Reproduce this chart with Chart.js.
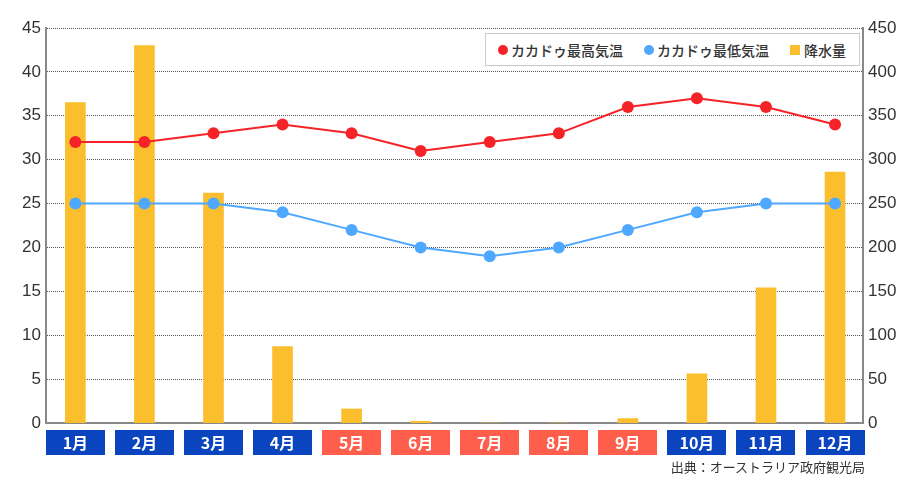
<!DOCTYPE html>
<html lang="ja">
<head>
  <meta charset="UTF-8">
  <title>カカドゥの気温と降水量</title>
  <style>
    body {
      margin: 0;
      background: #ffffff;
      font-family: 'Noto Sans CJK JP', 'Noto Sans', sans-serif;
      color: #333;
    }
    .wrap {
      position: relative;
      width: 920px;
      height: 493px;
    }
    .legend {
      position: absolute;
      left: 485px;
      top: 33px;
      width: 373px;
      height: 31px;
      border: 1px solid #cccccc;
      background: #ffffff;
      display: flex;
      align-items: center;
      font-size: 14px;
      font-weight: 500;
      color: #333;
      white-space: nowrap;
    }
    .legend .item { display: flex; align-items: center; }
    .legend .dot {
      width: 10px; height: 10px; border-radius: 50%;
      margin-right: 3px;
    }
    .legend .sq {
      width: 10px; height: 10px;
      margin-right: 4px;
    }
    .source {
      position: absolute;
      right: 55px;
      top: 457px;
      font-size: 13px;
      color: #333;
    }
  </style>
</head>
<body>
  <div class="wrap">
    <canvas id="climateChart" width="920" height="493"></canvas>
    <div class="legend">
      <div class="item" style="margin-left:12px;"><span class="dot" style="background:#f52328;"></span>カカドゥ最高気温</div>
      <div class="item" style="margin-left:21px;"><span class="dot" style="background:#4fa8ff;"></span>カカドゥ最低気温</div>
      <div class="item" style="margin-left:21px;"><span class="sq" style="background:#fbbf2d;"></span>降水量</div>
    </div>
    <div class="source">出典：オーストラリア政府観光局</div>
  </div>

  <script src="https://cdn.jsdelivr.net/npm/chart.js@4.4.1/dist/chart.umd.min.js"></script>
  <script>
    // data
    const months = ['1月','2月','3月','4月','5月','6月','7月','8月','9月','10月','11月','12月'];
    const maxTemp = [32, 32, 33, 34, 33, 31, 32, 33, 36, 37, 36, 34];
    const minTemp = [25, 25, 25, 24, 22, 20, 19, 20, 22, 24, 25, 25];
    const rainfall = [365, 430, 262, 87, 16, 2, 0, 0, 5, 56, 154, 286];
    const drySeason = [false, false, false, false, true, true, true, true, true, false, false, false];
    const tempTicks = [0, 45, 5];
    const rainTicks = [0, 450, 50];

    const toPoints = arr => arr.map((v, i) => ({ x: i, y: v }));

    // month boxes under the axis
    const monthBoxes = {
      id: 'monthBoxes',
      afterDraw(chart) {
        const { ctx } = chart;
        const xs = chart.scales.x;
        ctx.save();
        months.forEach((m, i) => {
          const cx = xs.getPixelForValue(i);
          ctx.fillStyle = drySeason[i] ? '#ff5e4c' : '#0a44be';
          ctx.fillRect(Math.round(cx - 29.5), 430, 59, 25);
          ctx.fillStyle = '#ffffff';
          ctx.font = 'bold 16px "Noto Sans CJK JP", sans-serif';
          ctx.textAlign = 'center';
          ctx.textBaseline = 'middle';
          ctx.fillText(m, cx, 443);
        });
        ctx.restore();
      }
    };

    const tickFont = { family: "'Liberation Sans', Arial, sans-serif", size: 17 };

    new Chart(document.getElementById('climateChart'), {
      data: {
        datasets: [
          {
            type: 'line',
            label: 'カカドゥ最高気温',
            data: toPoints(maxTemp),
            yAxisID: 'yT',
            borderColor: '#f52328',
            backgroundColor: '#f52328',
            borderWidth: 2,
            pointRadius: 6,
            pointBorderWidth: 0,
            order: 0
          },
          {
            type: 'line',
            label: 'カカドゥ最低気温',
            data: toPoints(minTemp),
            yAxisID: 'yT',
            borderColor: '#4fa8ff',
            backgroundColor: '#4fa8ff',
            borderWidth: 2,
            pointRadius: 6,
            pointBorderWidth: 0,
            order: 1
          },
          {
            type: 'bar',
            label: '降水量',
            data: toPoints(rainfall),
            yAxisID: 'yR',
            backgroundColor: '#fbbf2d',
            barThickness: 20,
            order: 2
          }
        ]
      },
      options: {
        responsive: false,
        animation: false,
        layout: { padding: { top: 28, left: 0, right: 0, bottom: 0 } },
        plugins: {
          legend: { display: false },
          tooltip: { enabled: false }
        },
        scales: {
          x: {
            type: 'linear',
            offset: false,
            bounds: 'ticks',
            min: -0.425,
            max: 11.405,
            grid: { display: false, drawTicks: false, offset: false },
            ticks: { display: false },
            border: { color: '#888888', width: 2 },
            afterFit: s => { s.height = 70; }
          },
          yT: {
            position: 'left',
            min: tempTicks[0],
            max: tempTicks[1],
            ticks: { stepSize: tempTicks[2], color: '#333', font: tickFont, padding: 5 },
            grid: { color: '#555555', lineWidth: 1, drawTicks: false },
            border: { color: '#888888', width: 2, dash: [1, 1] },
            afterFit: s => { s.width = 46; }
          },
          yR: {
            position: 'right',
            min: rainTicks[0],
            max: rainTicks[1],
            ticks: { stepSize: rainTicks[2], color: '#333', font: tickFont, padding: 5 },
            grid: { display: false, drawTicks: false },
            border: { color: '#888888', width: 2 },
            afterFit: s => { s.width = 57; }
          }
        }
      },
      plugins: [monthBoxes]
    });
  </script>
</body>
</html>
